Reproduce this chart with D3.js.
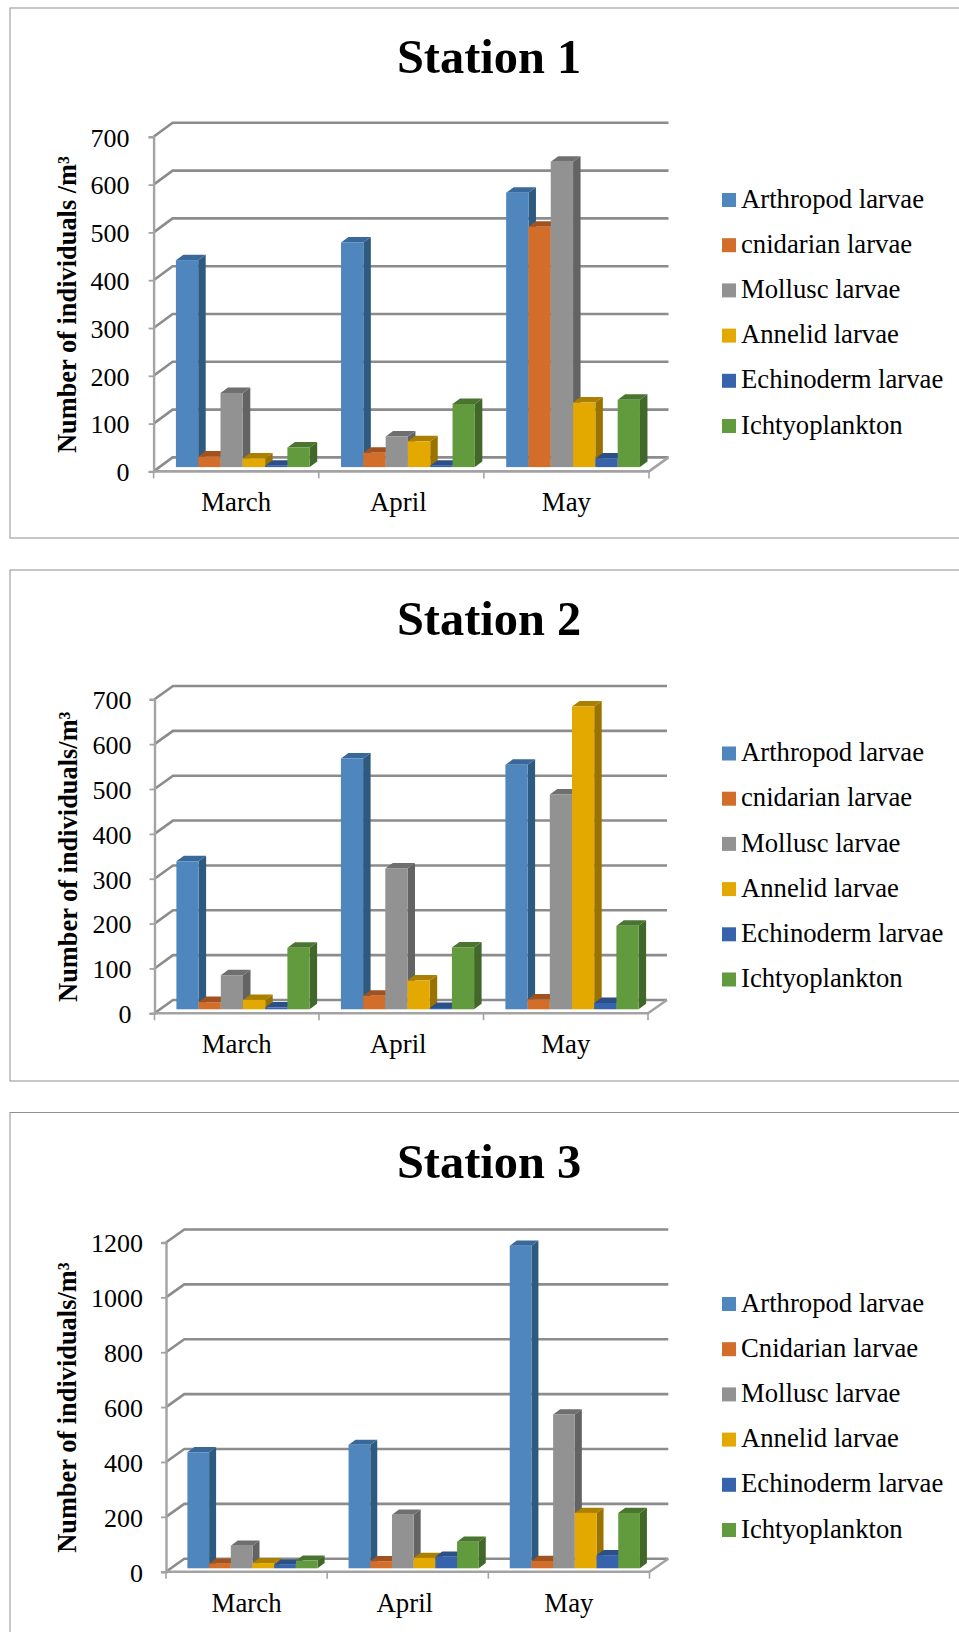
<!DOCTYPE html>
<html><head><meta charset="utf-8">
<script src="https://cdn.jsdelivr.net/npm/d3@7"></script>
<style>html,body{margin:0;padding:0;background:#fff}svg{display:block}text{font-family:"Liberation Serif","Times New Roman",serif;fill:#000}</style>
</head><body><div id="c"></div>
<script>
const months = ["March","April","May"];
const seriesKeys = ["arthropod","cnidarian","mollusc","annelid","echinoderm","ichtyo"];

const station1Names = ["Arthropod larvae","cnidarian larvae","Mollusc larvae","Annelid larvae","Echinoderm larvae","Ichtyoplankton"];
const station1March = [433,22,155,18,3,41];
const station1April = [470,30,64,54,3,132];
const station1May   = [574,503,639,135,18,141];
const station1Ticks = [0,100,200,300,400,500,600,700];

const station2Names = ["Arthropod larvae","cnidarian larvae","Mollusc larvae","Annelid larvae","Echinoderm larvae","Ichtyoplankton"];
const station2March = [330,16,76,21,4,137];
const station2April = [559,30,314,64,3,138];
const station2May   = [545,22,479,675,14,186];
const station2Ticks = [0,100,200,300,400,500,600,700];

const station3Names = ["Arthropod larvae","Cnidarian larvae","Mollusc larvae","Annelid larvae","Echinoderm larvae","Ichtyoplankton"];
const station3March = [423,17,82,19,13,28];
const station3April = [450,26,195,38,42,97];
const station3May   = [1176,27,561,202,48,202];
const station3Ticks = [0,200,400,600,800,1000,1200];

const colors = {
  arthropod:{f:"#4f86bd",s:"#2f5a80",t:"#38699a"},
  cnidarian:{f:"#d26d2a",s:"#8f4a1c",t:"#a0521f"},
  mollusc:{f:"#929292",s:"#636363",t:"#6f6f6f"},
  annelid:{f:"#e4a900",s:"#997200",t:"#ab8000"},
  echinoderm:{f:"#3763ac",s:"#254678",t:"#2b4f88"},
  ichtyo:{f:"#629a3e",s:"#41672a",t:"#4a7530"}
};

const W=959,H=1632;
const svg=d3.select("#c").append("svg").attr("width",W).attr("height",H);

const panels=[
 {title:"Station 1",yTitle:"Number of individuals /m³",names:station1Names,rows:[station1March,station1April,station1May],ticks:station1Ticks,
  frameTop:8,frameBottom:538,titleY:73,x0:153.6,x1:649,y0:471.4,yTop:136.8,dx:19,dy:14,barPad:22.3,barW:22.3,baseUp:4.3,bdx:7.5,bdy:5.5,lblGap:24,yTitleX:76,yTitleY:304.5,legendY:200,catY:510.7},
 {title:"Station 2",yTitle:"Number of individuals/m³",names:station2Names,rows:[station2March,station2April,station2May],ticks:station2Ticks,
  frameTop:570,frameBottom:1081,titleY:635,x0:154.5,x1:648,y0:1013.3,yTop:699.3,dx:18.5,dy:13.3,barPad:21.9,barW:22.2,baseUp:4,bdx:7.5,bdy:5.5,lblGap:23,yTitleX:77,yTitleY:856.7,legendY:753.5,catY:1053},
 {title:"Station 3",yTitle:"Number of individuals/m³",names:station3Names,rows:[station3March,station3April,station3May],ticks:station3Ticks,
  frameTop:1112.5,frameBottom:1700,titleY:1178,x0:166,x1:649.5,y0:1571.7,yTop:1242.5,dx:18.3,dy:13,barPad:21.4,barW:21.7,baseUp:3.4,bdx:7,bdy:5.2,lblGap:23,yTitleX:76,yTitleY:1407.6,legendY:1304,catY:1611.7}
];
const labelNudge=[0,-3,0];
const gridColor="#8c8c8c", axisColor="#a3a3a3";

panels.forEach(p=>{
  const g=svg.append("g");
  g.append("rect").attr("x",10).attr("y",p.frameTop).attr("width",1100).attr("height",p.frameBottom-p.frameTop)
    .attr("fill","#fff").attr("stroke","#8f8f8f").attr("stroke-width",1);
  g.append("text").attr("x",489).attr("y",p.titleY).attr("text-anchor","middle")
    .attr("font-size",48.4).attr("font-weight","bold").text(p.title);

  const y=d3.scaleLinear().domain([0,p.ticks[p.ticks.length-1]]).range([p.y0,p.yTop]);
  const x=d3.scaleBand().domain(months).range([p.x0,p.x1]);
  const inner=d3.scaleBand().domain(seriesKeys).range([p.barPad,p.barPad+6*p.barW]);
  const backR=p.x1+p.dx+0.5;

  // floor
  g.append("polygon").attr("points",[[p.x0,p.y0],[p.x1,p.y0],[backR,p.y0-p.dy],[p.x0+p.dx,p.y0-p.dy]].map(d=>d.join(",")).join(" ")).attr("fill","#fff");

  // back wall gridlines and left wall diagonals
  const grid=g.append("g").attr("fill","none").attr("stroke",gridColor).attr("stroke-width",2.6);
  p.ticks.forEach(v=>{
    grid.append("path").attr("d",d3.line()([[p.x0,y(v)],[p.x0+p.dx,y(v)-p.dy],[backR,y(v)-p.dy]]));
  });

  // floor edges
  g.append("path").attr("d",d3.line()([[p.x0,p.y0],[p.x1,p.y0],[backR,p.y0-p.dy]]))
    .attr("fill","none").attr("stroke",axisColor).attr("stroke-width",2.6);

  // y axis
  const ya=g.append("g").attr("transform",`translate(${p.x0},0)`)
    .call(d3.axisLeft(y).tickValues(p.ticks).tickFormat(d3.format("d")).tickSize(5).tickPadding(p.lblGap-5));
  ya.select(".domain").attr("stroke",axisColor).attr("stroke-width",2.4);
  ya.selectAll(".tick line").attr("stroke",axisColor).attr("stroke-width",1.8);
  ya.selectAll("text").attr("font-size",26).attr("font-family",'"Liberation Serif"').attr("dy","0.36em");

  // x axis
  const xa=g.append("g").attr("transform",`translate(0,${p.y0})`)
    .call(d3.axisBottom(x).tickSize(0).tickPadding(0));
  xa.select(".domain").remove();
  xa.selectAll("text").attr("font-size",26.8).attr("font-family",'"Liberation Serif"').attr("dy",0)
    .attr("y",p.catY-p.y0).attr("x",(d,i)=>labelNudge[i]);
  [0,1,2,3].forEach(i=>{
    const tx=i<3?x(months[i]):p.x1;
    g.append("line").attr("x1",tx).attr("x2",tx).attr("y1",p.y0).attr("y2",p.y0+7).attr("stroke",axisColor).attr("stroke-width",1.6);
  });

  // bars
  months.forEach((m,mi)=>{
    seriesKeys.forEach((k,si)=>{
      const v=p.rows[mi][si], c=colors[k];
      const bx=x(m)+inner(k), w=inner.bandwidth();
      const base=p.y0-p.baseUp;
      const top=y(v)-p.baseUp;
      const bar=g.append("g");
      bar.append("polygon").attr("fill",c.s).attr("points",[[bx+w,top],[bx+w+p.bdx,top-p.bdy],[bx+w+p.bdx,base-p.bdy],[bx+w,base]].map(d=>d.join(",")).join(" "));
      bar.append("polygon").attr("fill",c.t).attr("points",[[bx,top],[bx+p.bdx,top-p.bdy],[bx+w+p.bdx,top-p.bdy],[bx+w,top]].map(d=>d.join(",")).join(" "));
      bar.append("rect").attr("x",bx).attr("y",top).attr("width",w).attr("height",base-top).attr("fill",c.f);
    });
  });

  // y title
  g.append("text").attr("transform",`translate(${p.yTitleX},${p.yTitleY}) rotate(-90)`).attr("text-anchor","middle")
    .attr("font-size",26.4).attr("font-weight","bold").text(p.yTitle);

  // legend
  const leg=d3.scalePoint().domain(seriesKeys).range([p.legendY,p.legendY+5*45.2]);
  seriesKeys.forEach((k,i)=>{
    g.append("rect").attr("x",722).attr("y",leg(k)-7).attr("width",14).attr("height",14).attr("fill",colors[k].f);
    g.append("text").attr("x",741).attr("y",leg(k)+7.6).attr("font-size",26.7).text(p.names[i]);
  });
});
</script></body></html>
